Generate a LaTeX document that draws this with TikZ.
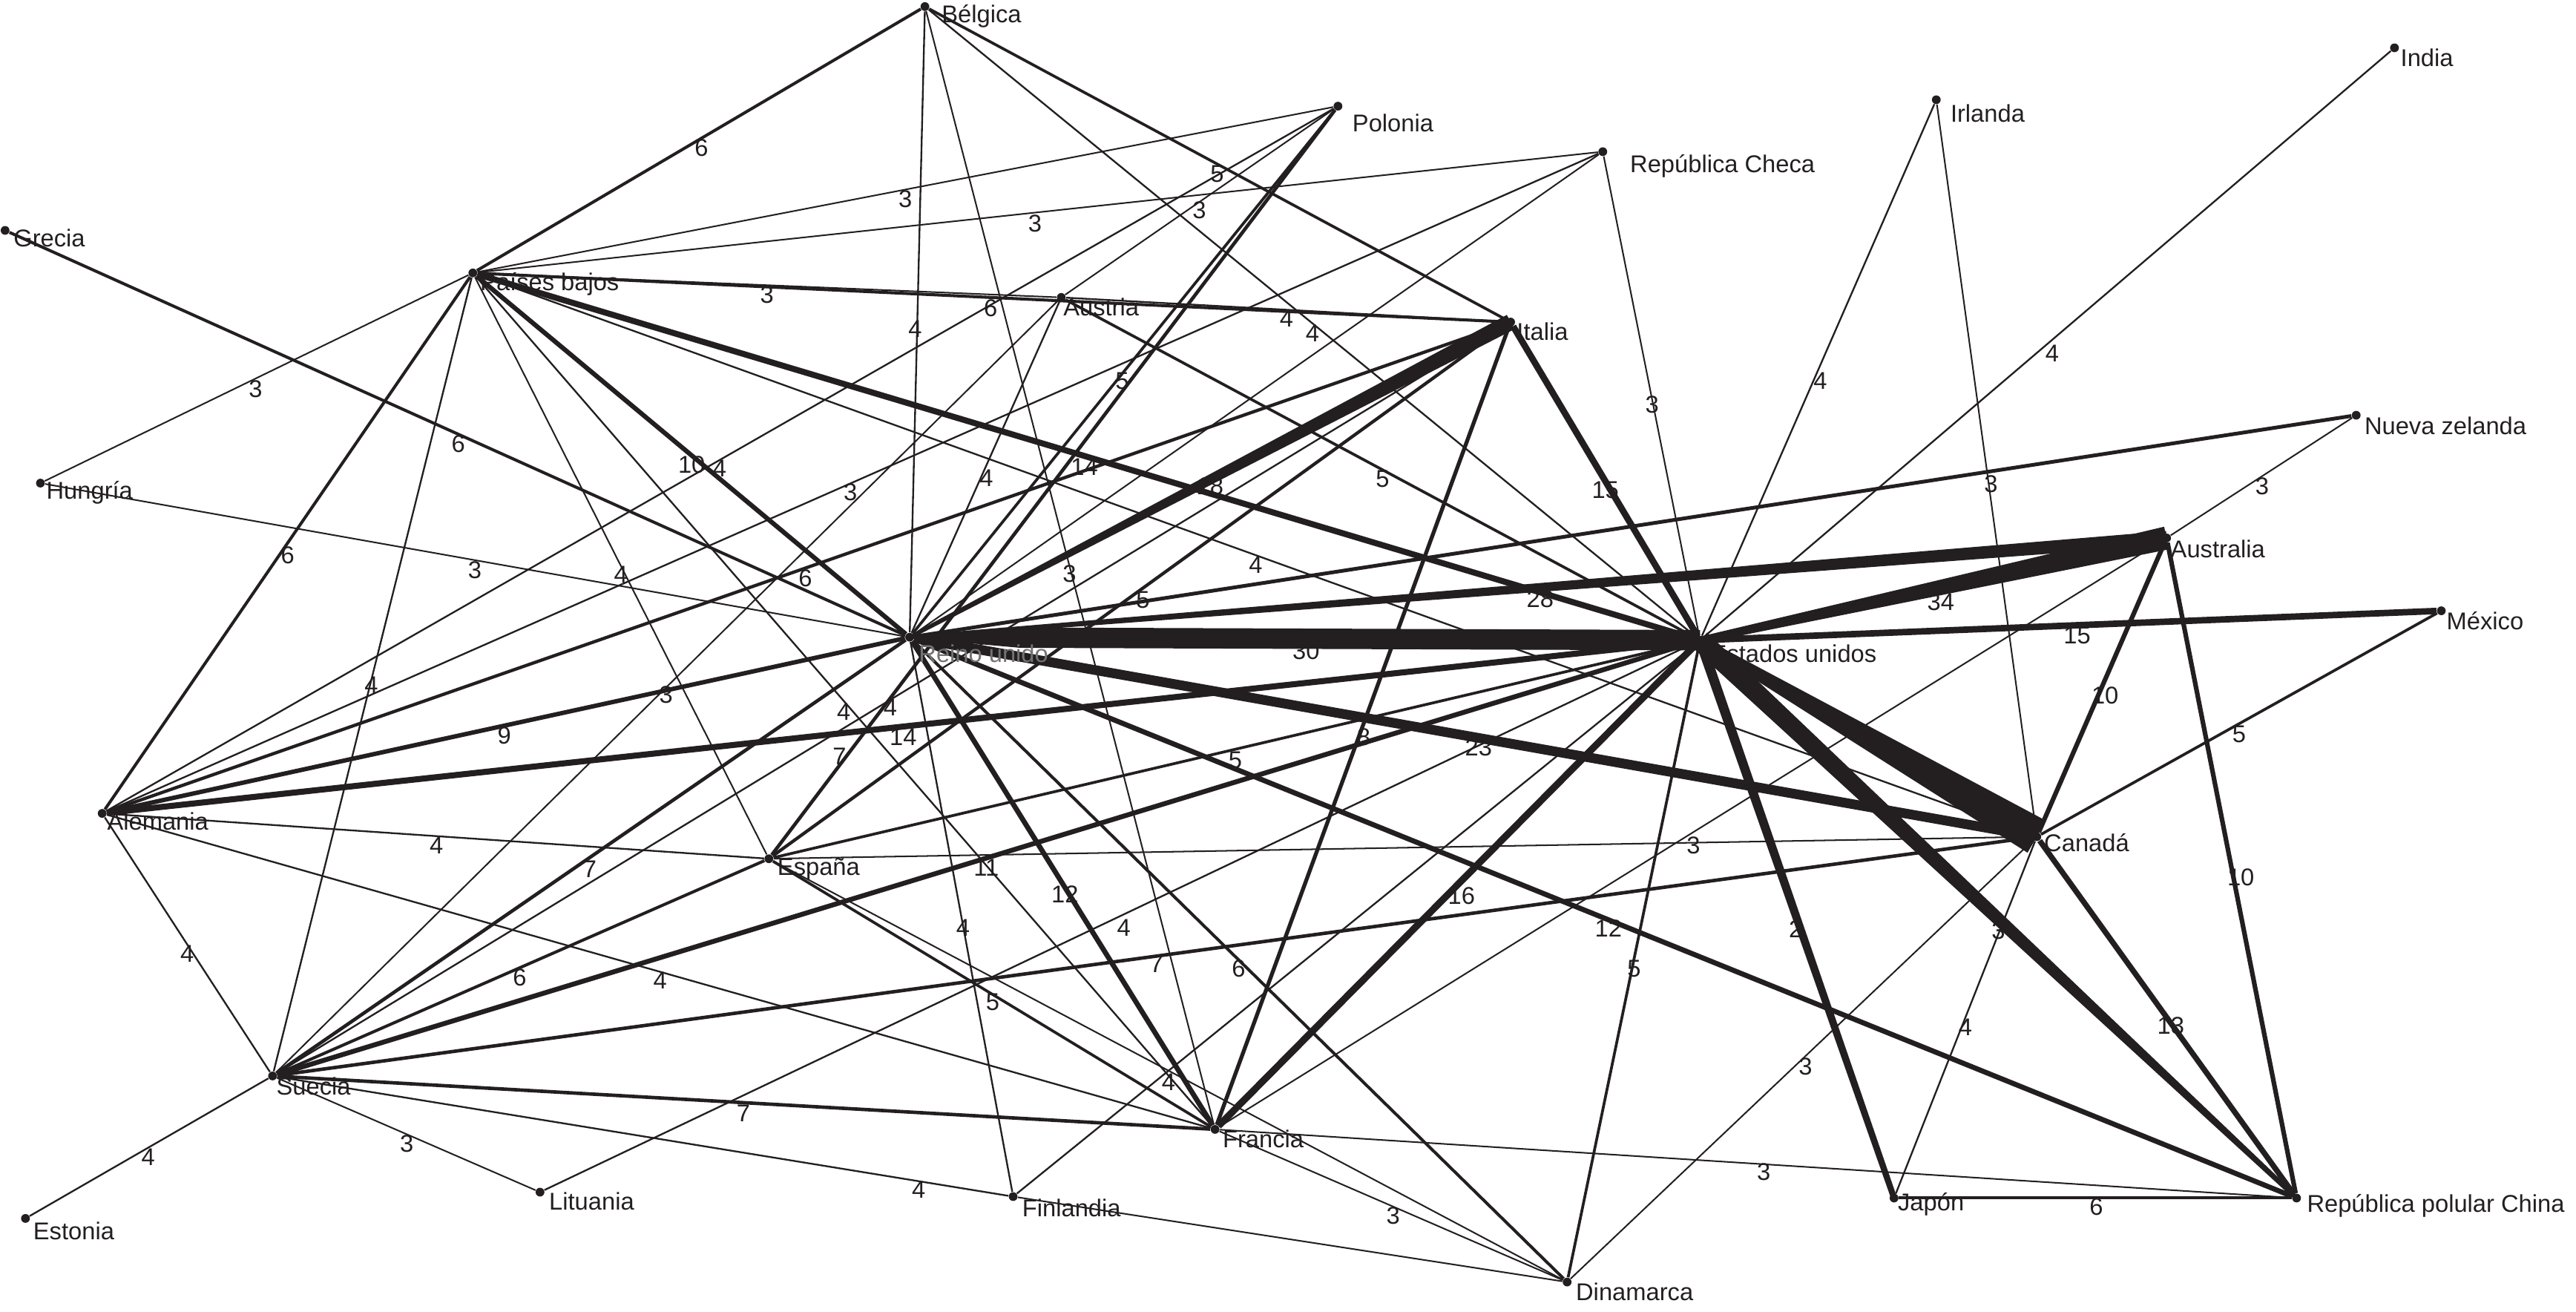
\documentclass[tikz,border=0pt]{standalone}
\usepackage{fontspec}
\setmainfont{Liberation Sans}
\usetikzlibrary{calc}
\definecolor{ink}{HTML}{231F20}
\newcommand{\lbl}{\fontsize{10.5}{12}\selectfont}
\newcommand{\tpr}[4]{\fill[ink] ($(#1)!#3!90:(#2)$) -- ($(#2)!#4!-90:(#1)$) -- ($(#2)!#4!90:(#1)$) -- ($(#1)!#3!-90:(#2)$) -- cycle;}
\tikzset{
  ed/.style={draw=ink, line width=#1},
  wa/.style={ed=0.65pt},
  wb/.style={ed=0.75pt},
  lab/.style={font=\lbl, text=ink, inner sep=0pt},
  cdot/.style={circle, fill=ink, inner sep=0pt, minimum size=3.8pt},
  cname/.style={font=\lbl, text=ink, anchor=west, inner sep=0pt}
}
\begin{document}
\begin{tikzpicture}[x=0.025cm, y=-0.025cm]
\useasboundingbox (0,0) rectangle (1568,798);
% nodes (dots)
\node[cdot] (be) at (563,4) {};
\node[cdot] (pl) at (814.4,64.6) {};
\node[cdot] (cz) at (975.6,92.3) {};
\node[cdot] (ie) at (1178.6,60.7) {};
\node[cdot] (ind) at (1457.5,29.1) {};
\node[cdot] (gr) at (3.1,140.2) {};
\node[cdot] (nl) at (287.8,166.1) {};
\node[cdot] (atr) at (646,181) {};
\node[cdot] (it) at (919.5,196) {};
\node[cdot] (hu) at (24.6,294) {};
\node[cdot] (nz) at (1434.2,252.7) {};
\node[cdot] (au) at (1318.8,327.4) {};
\node[cdot] (mx) at (1486,371.7) {};
\node[cdot] (uk) at (553.7,387.8) {};
\node[cdot] (us) at (1034.8,389.6) {};
\node[cdot] (de) at (62.2,495) {};
\node[cdot] (es) at (468,522.6) {};
\node[cdot] (ca) at (1239.8,509.2) {};
\node[cdot] (se) at (165.9,654.8) {};
\node[cdot] (fr) at (739.6,687.3) {};
\node[cdot] (lt) at (328.7,725.5) {};
\node[cdot] (fi) at (616.7,728.2) {};
\node[cdot] (ee) at (15.5,741.5) {};
\node[cdot] (jp) at (1152.9,729.1) {};
\node[cdot] (cn) at (1397.9,729.1) {};
\node[cdot] (dk) at (953.9,780.2) {};

% edges
\draw[ed=1.3pt] (be) -- node[lab,pos=0.494,shift={(0,5.9)}] (e1) {6} (nl);
\draw[wb] (be) -- node[lab,pos=0.511,shift={(-1.2,0)}] (e2) {4} (uk);
\draw[wa] (be) -- node[lab,pos=0.505,shift={(-1.2,0)}] (e3) {3} (fr);
\draw[wb] (be) -- node[lab,pos=0.5,shift={(0,6.2)}] (e4) {4} (us);
\draw[ed=1.2pt] (be) -- node[lab,pos=0.499,shift={(0,6.2)}] (e5) {5} (it);
\draw[wa] (nl) -- node[lab,pos=0.5,shift={(0,5.6)}] (e6) {3} (pl);
\draw[ed=1.2pt] (pl) -- node[lab,pos=0.518,shift={(3.6,0)}] (e7) {5} (uk);
\draw[wa] (pl) -- node[lab,pos=0.501,shift={(0,5.1)}] (e8) {3} (atr);
\draw[wb] (de) -- node[lab,pos=0.4996,shift={(0,5)}] (e9) {4} (pl);
\draw[ed=1.5pt] (es) -- node[lab,pos=0.1323,shift={(-4.2,0)}] (e10) {7} (pl);
\draw[wa] (nl) -- node[lab,pos=0.4975,shift={(0,6.6)}] (e11) {3} (cz);
\draw[wb] (de) -- node[lab,pos=0.3447,shift={(0,-6.2)}] (e12) {4} (cz);
\draw[wa] (uk) -- (cz);
\draw[wa] (cz) -- node[lab,pos=0.518,shift={(-0.6,0)}] (e14) {3} (us);
\draw[wb] (ie) -- node[lab,pos=0.521,shift={(4.3,0)}] (e15) {4} (us);
\draw[wa] (ie) -- node[lab,pos=0.522,shift={(1.4,0)}] (e16) {3} (ca);
\draw[wb] (ind) -- node[lab,pos=0.493,shift={(0,8.1)}] (e17) {4} (us);
\draw[ed=1.3pt] (gr) -- node[lab,pos=0.501,shift={(0,5.7)}] (e18) {6} (uk);
\draw[wa] (hu) -- node[lab,pos=0.4977,shift={(0,6.3)}] (e19) {3} (nl);
\draw[wa] (hu) -- node[lab,pos=0.4997,shift={(0,6.1)}] (e20) {3} (uk);
\draw[wa] (nl) -- node[lab,pos=0.4997,shift={(0,6)}] (e21) {3} (atr);
\draw[ed=1.3pt] (nl) -- node[lab,pos=0.499,shift={(0,6.5)}] (e22) {6} (it);
\draw[wb] (atr) -- node[lab,pos=0.501,shift={(0,5.5)}] (e23) {4} (it);
\draw[ed=2pt] (nl) -- node[lab,pos=0.501,shift={(0,5.8)}] (e24) {10} (uk);
\draw[ed=2.6pt] (nl) -- node[lab,pos=0.4983,shift={(0,6.5)}] (e25) {14} (us);
\draw[wa] (nl) -- node[lab,pos=0.7234,shift={(-12.2,0)}] (e26) {3} (es);
\draw[wb] (nl) -- node[lab,pos=0.4996,shift={(0,6.8)}] (e27) {4} (fr);
\draw[wb] (nl) -- node[lab,pos=0.5134,shift={(0.8,0)}] (e28) {4} (se);
\draw[ed=1.3pt] (de) -- node[lab,pos=0.4773,shift={(5.1,0)}] (e29) {6} (nl);
\draw[wb] (nl) -- node[lab,pos=0.5006,shift={(0,6.1)}] (e30) {4} (ca);
\draw[ed=1.2pt] (atr) -- node[lab,pos=0.503,shift={(0,5.4)}] (e31) {5} (us);
\draw[wb] (atr) -- node[lab,pos=0.5334,shift={(3.5,0)}] (e32) {4} (uk);
\draw[wa] (se) -- node[lab,pos=0.7348,shift={(0,-8.1)}] (e33) {3} (atr);
\draw[ed=2.8pt] (it) -- node[lab,pos=0.5294,shift={(-3.3,0)}] (e34) {15} (us);
\draw[ed=1.4pt] (de) -- node[lab,pos=0.4992,shift={(0,6.3)}] (e35) {6} (it);
\draw[ed=1.4pt] (es) -- (it);
\draw[wb] (se) -- node[lab,pos=0.499,shift={(0,4.8)}] (e37) {4} (it);
\draw[ed=1.7pt] (it) -- node[lab,pos=0.514,shift={(3,0)}] (e38) {8} (fr);
\draw[ed=1.6pt] (uk) -- node[lab,pos=0.159,shift={(0,-0.9)}] (e39) {5} (nz);
\draw[wa] (nz) -- node[lab,pos=0.4957,shift={(0,6.1)}] (e40) {3} (au);
\draw[wa] (au) -- (fr);
\draw[ed=2pt] (au) -- node[lab,pos=0.5286,shift={(4.2,0)}] (e42) {10} (ca);
\draw[ed=2pt] (au) -- node[lab,pos=0.5143,shift={(4.5,0)}] (e43) {10} (cn);
\draw[ed=2.8pt] (us) -- node[lab,pos=0.5089,shift={(0,6.4)}] (e44) {15} (mx);
\draw[ed=1.2pt] (ca) -- node[lab,pos=0.5,shift={(0,6.25)}] (e45) {5} (mx);
\draw[ed=2.4pt] (ca) -- node[lab,pos=0.523,shift={(-1.1,0)}] (e46) {13} (cn);
\draw[wb] (jp) -- node[lab,pos=0.473,shift={(2.2,0)}] (e47) {4} (ca);
\draw[wa] (ca) -- node[lab,pos=0.4925,shift={(0,6.4)}] (e48) {3} (dk);
\draw[ed=1.5pt] (se) -- node[lab,pos=0.501,shift={(0,5)}] (e49) {7} (ca);
\draw[wa] (es) -- node[lab,pos=0.731,shift={(0,1.8)}] (e50) {3} (ca);
\draw[ed=2.2pt] (uk) -- node[lab,pos=0.5038,shift={(0,5.3)}] (e51) {12} (cn);
\draw[ed=1.3pt] (uk) -- node[lab,pos=0.5005,shift={(0,5.3)}] (e52) {6} (dk);
\draw[wb] (uk) -- node[lab,pos=0.5197,shift={(-0.3,0)}] (e53) {4} (fi);
\draw[ed=2.2pt] (uk) -- node[lab,pos=0.5222,shift={(-2.5,0)}] (e54) {12} (fr);
\draw[ed=1.5pt] (se) -- node[lab,pos=0.498,shift={(0,7.2)}] (e55) {7} (uk);
\draw[ed=1.3pt] (se) -- node[lab,pos=0.4978,shift={(0,5.9)}] (e56b) {6} (es);
\draw[ed=1.9pt] (de) -- node[lab,pos=0.498,shift={(0,6)}] (e56) {9} (uk);
\draw[ed=2.6pt] (de) -- node[lab,pos=0.5013,shift={(0,6.3)}] (e57) {14} (us);
\draw[ed=2.1pt] (se) -- node[lab,pos=0.5,shift={(0,6)}] (e58) {11} (us);
\draw[ed=1.2pt] (es) -- node[lab,pos=0.501,shift={(0,6.8)}] (e59) {5} (us);
\draw[ed=3pt] (us) -- node[lab,pos=0.5072,shift={(4.5,4.5)}] (e60) {16} (fr);
\draw[ed=1.2pt] (us) -- node[lab,pos=0.5118,shift={(1.2,0)}] (e61) {5} (dk);
\draw[wb] (fi) -- node[lab,pos=0.2148,shift={(3.5,4.3)}] (e62) {4} (us);
\draw[wb] (lt) -- node[lab,pos=0.5033,shift={(0,8.3)}] (e63) {4} (us);
\draw[wa] (fr) -- node[lab,pos=0.5074,shift={(0,4.6)}] (e64) {3} (cn);
\draw[wa] (fr) -- node[lab,pos=0.5058,shift={(0,5.5)}] (e65) {3} (dk);
\draw[ed=1.2pt] (es) -- node[lab,pos=0.5015,shift={(0,4.8)}] (e66) {5} (fr);
\draw[wb] (de) -- node[lab,pos=0.5013,shift={(0,5.3)}] (e67) {4} (fr);
\draw[ed=1.5pt] (se) -- node[lab,pos=0.4996,shift={(0,6.4)}] (e68) {7} (fr);
\draw[ed=1.3pt] (jp) -- node[lab,pos=0.5024,shift={(0,5.3)}] (e69) {6} (cn);
\draw[wb] (se) -- node[lab,pos=0.5033,shift={(0,5.8)}] (e70) {4} (ee);
\draw[wa] (se) -- node[lab,pos=0.5018,shift={(0,5.9)}] (e71) {3} (lt);
\draw[wb] (se) -- node[lab,pos=0.8773,shift={(0,5.4)}] (e72) {4} (fi);
\draw[wa] (fi) -- (dk);
\draw[wb] (de) -- node[lab,pos=0.5363,shift={(-3.8,0)}] (e74) {4} (se);
\draw[wb] (de) -- node[lab,pos=0.5015,shift={(0,5.8)}] (e75) {4} (es);
\draw[wa] (es) -- (dk);
\draw[ed=4.2pt] (uk) -- node[lab,pos=0.5047,shift={(0,5.7)}] (e84) {23} (ca);

% heavy tapered connectors
\coordinate (ukusm) at ($(uk)!0.14!(us)$);
\tpr{uk}{ukusm}{0.3pt}{4.4pt}
\tpr{ukusm}{us}{4.4pt}{4.4pt}
\path (uk) -- node[lab,pos=0.5016,shift={(0,7.5)}] (e77) {30} (us);
\tpr{us}{ca}{1.6pt}{8pt}
\tpr{us}{au}{1.5pt}{5pt}
\path (us) -- node[lab,pos=0.5162,shift={(0,8.8)}] (e79) {34} (au);
\tpr{uk}{au}{0.8pt}{3pt}
\path (uk) -- node[lab,pos=0.5016,shift={(0,7)}] (e78) {28} (au);
\tpr{uk}{it}{0.8pt}{3.5pt}
\path (uk) -- node[lab,pos=0.4997,shift={(0,3.8)}] (e80) {18} (it);
\tpr{us}{cn}{4.5pt}{1pt}
\path (us) -- node[lab,pos=0.5098,shift={(-3.5,3.7)}] (e82) {3} (cn);
\tpr{us}{jp}{2.2pt}{1.3pt}
\path (us) -- node[lab,pos=0.5184,shift={(-3,0)}] (e83) {2} (jp);

% country names
\node[cname] (tbe) at (573,10) {Bélgica};
\node[cname] (tpl) at (823,75) {Polonia};
\node[cname] (tcz) at (992,101) {República Checa};
\node[cname] (tie) at (1187,69) {Irlanda};
\node[cname] (tind) at (1461,35) {India};
\node[cname] (tgr) at (8,145) {Grecia};
\node[cname] (tnl) at (292,173) {Países bajos};
\node[cname] (tatr) at (647,187) {Austria};
\node[cname] (tit) at (923,202) {Italia};
\node[cname] (thu) at (28,300) {Hungría};
\node[cname] (tnz) at (1439,259) {Nueva zelanda};
\node[cname] (tau) at (1321,334) {Australia};
\node[cname] (tmx) at (1489,378) {México};
\node[cname, text=black!55] (tuk) at (559,398) {Reino unido};
\node[cname] (tus) at (1041,398) {Estados unidos};
\node[cname] (tde) at (65,500) {Alemania};
\node[cname] (tes) at (473,529) {España};
\node[cname] (tca) at (1244,513) {Canadá};
\node[cname] (tse) at (168,661) {Suecia};
\node[cname] (tfr) at (744,693) {Francia};
\node[cname] (tlt) at (334,731) {Lituania};
\node[cname] (tfi) at (622,735) {Finlandia};
\node[cname] (tee) at (20,749) {Estonia};
\node[cname] (tjp) at (1155,733) {Japón};
\node[cname] (tcn) at (1404,734) {República polular China};
\node[cname] (tdk) at (959,786) {Dinamarca};
\end{tikzpicture}
\end{document}
